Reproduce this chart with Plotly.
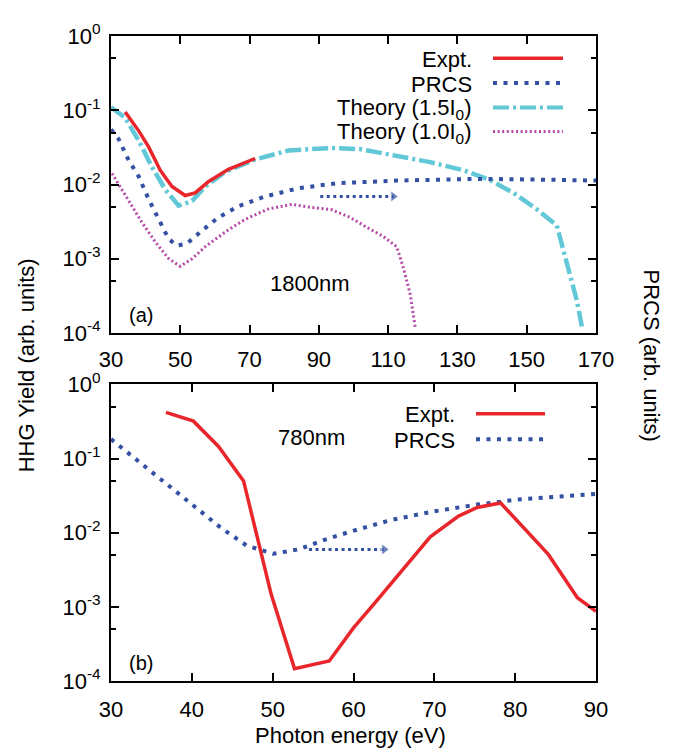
import plotly.graph_objects as go

# ---------------- data ----------------
# Panel (a): 1800 nm
expt_a_x = [34.1, 38.0, 40.9, 44.2, 47.6, 51.4, 54.3, 58.2, 63.9, 71.6]
expt_a_y = [0.095, 0.0528, 0.0318, 0.0156, 0.0094, 0.0071, 0.0077, 0.011, 0.016, 0.0224]

prcs_a_x = [30, 32.2, 35.1, 38.0, 40.9, 44.2, 46.6, 49.0, 51.9, 56.3, 61.0, 66.8, 74.5, 84.1, 95.2, 112.5, 135.6, 151.0, 170.0]
prcs_a_y = [0.055, 0.041, 0.0212, 0.0128, 0.0063, 0.0031, 0.00186, 0.0015, 0.0016, 0.0024, 0.0036, 0.0051, 0.0069, 0.0089, 0.0104, 0.0113, 0.0119, 0.0117, 0.0113]

theory15_x = [30, 31.7, 34.1, 38.0, 41.8, 45.7, 49.5, 53.4, 57.2, 63.0, 71.6, 81.2, 93.5, 101.9, 112.5, 122.1, 131.7, 139.4, 146.2, 152.9, 158.7, 161.6, 164.5, 166.1]
theory15_y = [0.11, 0.097, 0.079, 0.039, 0.0173, 0.0085, 0.0052, 0.006, 0.0094, 0.0148, 0.0217, 0.0287, 0.031, 0.030, 0.0247, 0.020, 0.0156, 0.0115, 0.0077, 0.00465, 0.0028, 0.00092, 0.00027, 0.00011]

theory10_x = [30.3, 33.2, 36.1, 38.9, 42.8, 46.6, 50.0, 53.4, 57.2, 63.0, 68.7, 75.5, 82.2, 88.0, 93.5, 99.0, 104.8, 108.6, 112.5, 114.4, 116.4, 117.8]
theory10_y = [0.0141, 0.0085, 0.0051, 0.0031, 0.00168, 0.00101, 0.00079, 0.001, 0.00145, 0.0023, 0.0034, 0.0047, 0.0054, 0.0049, 0.0046, 0.0036, 0.0025, 0.002, 0.00145, 0.00075, 0.00033, 0.00012]

arrow_a_x = [90.4, 111.5]
arrow_a_y = [0.0069, 0.0069]

# Panel (b): 780 nm
expt_b_x = [36.8, 40.2, 43.3, 46.4, 49.8, 52.7, 57.0, 60.0, 62.7, 65.8, 69.5, 73.0, 75.3, 78.2, 81.1, 84.1, 87.7, 90.0]
expt_b_y = [0.42, 0.32, 0.146, 0.050, 0.0015, 0.000147, 0.000186, 0.00052, 0.00115, 0.0029, 0.0088, 0.0168, 0.0219, 0.0252, 0.0115, 0.0051, 0.00133, 0.00087]

prcs_b_x = [30, 33.4, 36.9, 40.2, 43.5, 46.8, 50.1, 53.2, 56.5, 59.8, 64.6, 69.9, 75.3, 80.3, 85.2, 90.0]
prcs_b_y = [0.183, 0.092, 0.045, 0.0228, 0.0119, 0.0067, 0.0052, 0.00596, 0.0081, 0.0105, 0.0148, 0.0194, 0.024, 0.028, 0.031, 0.0335]

arrow_b_x = [54.5, 63.8]
arrow_b_y = [0.00596, 0.00596]

x_ticks_a = [30, 50, 70, 90, 110, 130, 150, 170]
x_ticks_b = [30, 40, 50, 60, 70, 80, 90]
y_ticks = [1e-4, 1e-3, 1e-2, 1e-1, 1e0]
y_ticktext = ["10<sup>-4</sup>", "10<sup>-3</sup>", "10<sup>-2</sup>", "10<sup>-1</sup>", "10<sup>0</sup>"]
y_minor = [5e-4, 5e-3, 5e-2, 5e-1]

# ---------------- style ----------------
W, H = 674, 749
OFF = 8  # page body margin in the browser
# plot frame in screen pixels
SL, SR, ST, SB = 111, 596, 23, 681
ML, MT = SL - OFF, ST - OFF
MR, MB = W - SR + OFF, H - SB + OFF
PW, PH = SR - SL, SB - ST
FONT = "Liberation Sans, Arial, Helvetica, sans-serif"
FS = 22
RED = "#e8262b"
BLUE = "#3350a3"
CYAN = "#62c8d8"
MAG = "#b548a8"
BLUE_DASH = "4px,6.5px"
CYAN_DASH = "16px,4px,3px,4px"
MAG_DASH = "2px,2.6px"


def px(X):
    return (X - SL) / PW


def py(Y):
    return 1 - (Y - ST) / PH


fig = go.Figure()

# panel (a)
fig.add_trace(go.Scatter(x=theory15_x, y=theory15_y, mode="lines", xaxis="x", yaxis="y",
                         line=dict(color=CYAN, width=4.5, dash=CYAN_DASH), showlegend=False))
fig.add_trace(go.Scatter(x=theory10_x, y=theory10_y, mode="lines", xaxis="x", yaxis="y",
                         line=dict(color=MAG, width=3, dash=MAG_DASH), showlegend=False))
fig.add_trace(go.Scatter(x=prcs_a_x, y=prcs_a_y, mode="lines", xaxis="x", yaxis="y",
                         line=dict(color=BLUE, width=4, dash=BLUE_DASH), showlegend=False))
fig.add_trace(go.Scatter(x=expt_a_x, y=expt_a_y, mode="lines", xaxis="x", yaxis="y",
                         line=dict(color=RED, width=3.5), showlegend=False))
fig.add_trace(go.Scatter(x=arrow_a_x, y=arrow_a_y, mode="lines+markers", xaxis="x", yaxis="y",
                         line=dict(color=BLUE, width=3, dash="3px,3.5px"),
                         marker=dict(symbol="triangle-right", size=[0, 10], color=BLUE),
                         showlegend=False))

# panel (b)
fig.add_trace(go.Scatter(x=prcs_b_x, y=prcs_b_y, mode="lines", xaxis="x2", yaxis="y2",
                         line=dict(color=BLUE, width=4, dash=BLUE_DASH), showlegend=False))
fig.add_trace(go.Scatter(x=expt_b_x, y=expt_b_y, mode="lines", xaxis="x2", yaxis="y2",
                         line=dict(color=RED, width=3.5), showlegend=False))
fig.add_trace(go.Scatter(x=arrow_b_x, y=arrow_b_y, mode="lines+markers", xaxis="x2", yaxis="y2",
                         line=dict(color=BLUE, width=3, dash="3px,3.5px"),
                         marker=dict(symbol="triangle-right", size=[0, 10], color=BLUE),
                         showlegend=False))

axis_common = dict(showline=True, linewidth=2, linecolor="black", mirror="ticks",
                   ticks="inside", ticklen=8, tickwidth=1.5, tickcolor="black",
                   showgrid=False, zeroline=False,
                   tickfont=dict(family=FONT, size=FS, color="black"))

yaxis_common = dict(axis_common, type="log", range=[-4, 0], tickmode="array",
                    tickvals=y_ticks, ticktext=y_ticktext,
                    minor=dict(tickmode="array", tickvals=y_minor, ticks="inside",
                               ticklen=5, tickwidth=1.5, tickcolor="black", showgrid=False))

fig.update_layout(
    width=W, height=H,
    margin=dict(l=ML, r=MR, t=MT, b=MB, pad=0),
    paper_bgcolor="white", plot_bgcolor="white",
    font=dict(family=FONT, size=FS, color="black"),
    xaxis=dict(axis_common, domain=[0, 1], anchor="y", range=[30, 170],
               tickmode="array", tickvals=x_ticks_a, ticklabelstandoff=6),
    yaxis=dict(yaxis_common, domain=[py(326), 1], anchor="x", ticklabelstandoff=4),
    xaxis2=dict(axis_common, domain=[0, 1], anchor="y2", range=[30, 90],
                tickmode="array", tickvals=x_ticks_b, ticklabelstandoff=8),
    yaxis2=dict(yaxis_common, domain=[0, py(378.5)], anchor="x2", ticklabelstandoff=4),
)

ann = []
shapes = []


def legend_entry(X_text, Y, label, color, width, dash, X0, X1):
    ann.append(dict(x=px(X_text), y=py(Y + 1), xref="paper", yref="paper", text=label,
                    showarrow=False, xanchor="right", yanchor="middle",
                    font=dict(family=FONT, size=FS, color="black")))
    shapes.append(dict(type="line", xref="paper", yref="paper",
                       x0=px(X0), x1=px(X1), y0=py(Y), y1=py(Y),
                       line=dict(color=color, width=width, dash=dash)))


legend_entry(474, 45.7, "Expt.", RED, 3.5, "solid", 493, 563)
legend_entry(474, 71, "PRCS", BLUE, 4, BLUE_DASH, 493, 563)
legend_entry(474, 96, "Theory (1.5I<sub>0</sub>)", CYAN, 4, CYAN_DASH, 493, 563)
legend_entry(474, 120.5, "Theory (1.0I<sub>0</sub>)", MAG, 3, MAG_DASH, 493, 563)
legend_entry(457, 408.3, "Expt.", RED, 3.5, "solid", 476, 545)
legend_entry(457, 434.3, "PRCS", BLUE, 4, BLUE_DASH, 476, 545)


def text_at(X, Y, s, angle=0, size=FS):
    ann.append(dict(x=px(X), y=py(Y), xref="paper", yref="paper", text=s, showarrow=False,
                    xanchor="center", yanchor="middle", textangle=angle,
                    font=dict(family=FONT, size=size, color="black")))


text_at(141, 308, "(a)", size=20)
text_at(141, 663, "(b)", size=20)
text_at(310, 275, "1800nm")
text_at(311, 433, "780nm")
text_at(26, 359, "HHG Yield (arb. units)", angle=-90)
text_at(651, 349, "PRCS (arb. units)", angle=90)
text_at(350, 737, "Photon energy (eV)")

fig.update_layout(annotations=ann, shapes=shapes)

fig.write_html("out.html")
